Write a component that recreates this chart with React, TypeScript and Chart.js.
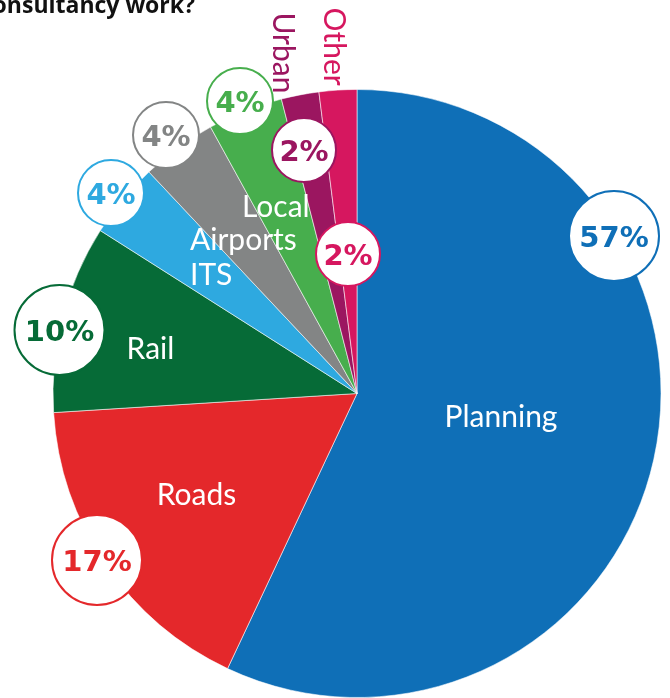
import React, { useEffect, useRef } from "react";
import { Chart, registerables } from "chart.js";

Chart.register(...registerables);

// ---- data ----
const categories = ["Planning", "Roads", "Rail", "ITS", "Airports", "Local", "Urban", "Other"];
const shares = [57, 17, 10, 4, 4, 4, 2, 2];
const sliceColors = ["#0F6FB7", "#E4282B", "#066B37", "#2EA9E0", "#838585", "#47AE4D", "#9B1660", "#D6175F"];
const titleText = "consultancy work?";

// ---- layout of annotations (offsets from pie centre) ----
// text labels: [dx, dy, align, rotated]
const labelLayout: [number, number, CanvasTextAlign, boolean][] = [
  [144, 33.5, "center", false],
  [-160.5, 111.5, "center", false],
  [-206.5, -34.5, "center", false],
  [-167, -108.5, "left", false],
  [-167, -143.5, "left", false],
  [-115, -176.5, "left", false],
  [-84, -381, "left", true],
  [-33, -386, "left", true],
];
// percentage badges: [dx, dy, radius]
const badgeLayout: [number, number, number][] = [
  [257, -157.5, 45],
  [-260, 166.5, 45],
  [-297.5, -63.5, 45],
  [-246, -200.5, 33],
  [-191, -258.5, 33],
  [-117, -292.5, 33],
  [-53, -243.5, 32],
  [-9, -139.5, 32],
];

const annotationPlugin = {
  id: "pieAnnotations",
  afterDatasetsDraw(chart: any) {
    const ctx: CanvasRenderingContext2D = chart.ctx;
    const meta = chart.getDatasetMeta(0);
    const arc = meta.data[0];
    const cx = arc.x;
    const cy = arc.y;
    const values: number[] = chart.data.datasets[0].data;
    const total = values.reduce((a, b) => a + b, 0);

    ctx.save();
    // title (cut off at the left edge, as in the source)
    ctx.fillStyle = "#111111";
    ctx.font = "bold 23px 'Open Sans'";
    ctx.textAlign = "right";
    ctx.textBaseline = "alphabetic";
    ctx.fillText(titleText, 195, 13);

    // labels
    ctx.font = "30px Lato";
    ctx.textBaseline = "alphabetic";
    categories.forEach((name, i) => {
      const [dx, dy, align, rotated] = labelLayout[i];
      if (rotated) {
        ctx.save();
        ctx.translate(cx + dx, cy + dy);
        ctx.rotate(Math.PI / 2);
        ctx.fillStyle = sliceColors[i];
        ctx.textAlign = "left";
        ctx.fillText(name, 0, 0);
        ctx.restore();
      } else {
        ctx.fillStyle = "#FFFFFF";
        ctx.textAlign = align;
        ctx.fillText(name, cx + dx, cy + dy);
      }
    });

    // badges
    values.forEach((v, i) => {
      const [dx, dy, r] = badgeLayout[i];
      const bx = cx + dx;
      const by = cy + dy;
      ctx.beginPath();
      ctx.arc(bx, by, r, 0, Math.PI * 2);
      ctx.fillStyle = "#FFFFFF";
      ctx.fill();
      ctx.lineWidth = 2;
      ctx.strokeStyle = sliceColors[i];
      ctx.stroke();
      ctx.fillStyle = sliceColors[i];
      ctx.font = "bold 29px 'DejaVu Sans'";
      ctx.textAlign = "center";
      ctx.textBaseline = "alphabetic";
      const pct = Math.round((v / total) * 100);
      ctx.fillText(pct + "%", bx, by + 10.5);
    });
    ctx.restore();
  },
};

export default function App() {
  const canvasRef = useRef<HTMLCanvasElement | null>(null);

  useEffect(() => {
    if (!canvasRef.current) return;
    const chart = new Chart(canvasRef.current, {
      type: "pie",
      data: {
        labels: categories,
        datasets: [
          {
            data: shares,
            backgroundColor: sliceColors,
            borderColor: "rgba(255,255,255,0.55)",
            borderWidth: 1,
          },
        ],
      },
      options: {
        responsive: false,
        animation: false,
        devicePixelRatio: 1,
        layout: { padding: { left: 52, right: 8, top: 89, bottom: 0 } },
        plugins: {
          legend: { display: false },
          tooltip: { enabled: false },
          title: { display: false },
        },
      },
      plugins: [annotationPlugin],
    });
    return () => chart.destroy();
  }, []);

  return (
    <div style={{ position: "absolute", left: 0, top: 0, width: 670, height: 698, background: "#FFFFFF" }}>
      <canvas ref={canvasRef} width={670} height={698} style={{ width: 670, height: 698, display: "block" }} />
    </div>
  );
}
